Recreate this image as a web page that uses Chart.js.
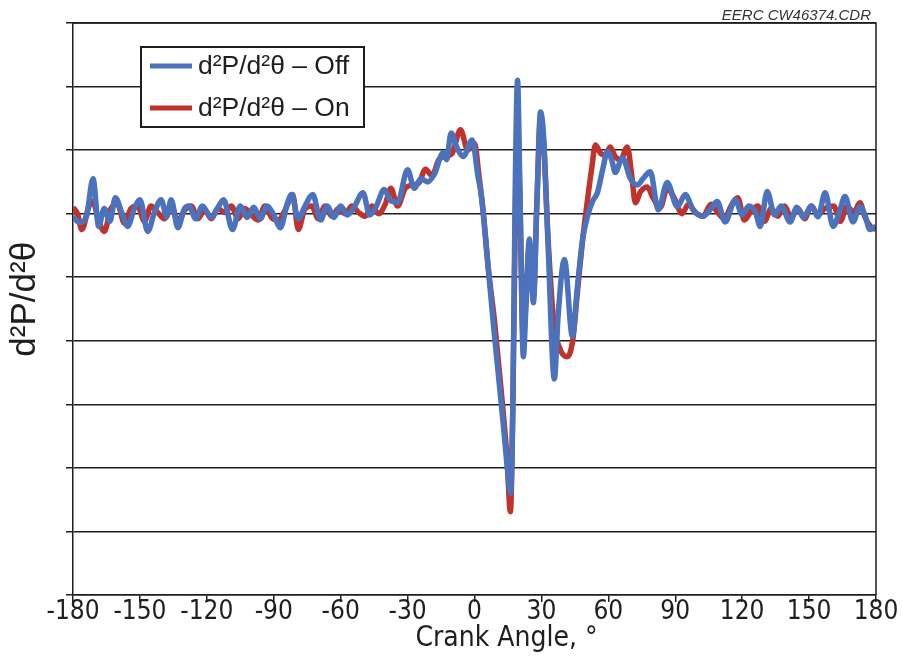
<!DOCTYPE html>
<html>
<head>
<meta charset="utf-8">
<title>d²P/d²θ vs Crank Angle</title>
<script src="https://cdn.jsdelivr.net/npm/chart.js@4/dist/chart.umd.min.js"></script>
<style>
  html, body { margin: 0; padding: 0; background: #fff; }
  canvas { display: block; }
</style>
</head>
<body>
<canvas id="chart" width="902" height="668"></canvas>
<script>
// crank angle (deg) and second derivative of pressure, injection off
const angleOff = [
  -180, -177, -174, -171, -168.5, -166, -163.5, -161, -158, -155.5,
  -152.5, -150, -146.5, -143.5, -140.5, -138, -136, -133, -130, -128,
  -125, -122, -118, -115, -112.5, -108.5, -105, -102, -99, -96,
  -93, -90, -87, -84, -82, -79, -76, -72.5, -69, -66,
  -63, -60, -57, -54, -50, -47, -44, -40.5, -37.5, -34.5,
  -30, -27, -24, -21, -18, -14, -12.5, -10.5, -8, -5,
  -1, 1.5, 3, 5, 8.5, 13, 15, 16.2, 17.2, 18.3,
  19.3, 20.3, 21.9, 23, 24.6, 26.4, 28, 29.6, 31, 33,
  35.8, 37.5, 40.3, 43.9, 46, 48.5, 50.6, 53, 55.1, 57.5,
  59.6, 61.5, 63.1, 66.3, 69.9, 73, 75.5, 78.8, 82.4, 86.4,
  90.9, 94.5, 98, 102.5, 106, 108.8, 112.4, 116.9, 120, 123,
  126, 128.1, 131.2, 134.5, 137.5, 141.5, 144.5, 147.5, 151, 154,
  157.2, 160.8, 163.5, 166.1, 169.7, 172.8, 175, 177.3, 180
];
const dpOff = [
  -0.05, -0.14, -0.05, 0.55, -0.2, 0.08, -0.12, 0.25, 0, -0.2,
  0.08, 0.22, -0.28, 0.02, 0.22, -0.05, 0.22, -0.22, 0.08, 0.12,
  -0.08, 0.12, -0.06, 0.1, 0.22, -0.25, 0.12, -0.06, 0.1, -0.08,
  0.12, -0.02, -0.22, 0.15, 0.3, -0.08, 0.12, 0.3, -0.1, 0.12,
  -0.06, 0.12, -0.02, 0.1, 0.33, -0.02, 0.12, 0.38, 0.2, 0.18,
  0.69, 0.4, 0.55, 0.5, 0.62, 0.96, 0.85, 1.27, 1.05, 0.9,
  1.16, 0.6, 0.3, -0.4, -1.75, -3.35, -4.1, -4.4, -3.0, 0.5,
  2.1, 0.5, -2.25, -1.5, -0.4, -1.4, 0.2, 1.6, 1.2, -0.5,
  -2.6, -1.6, -0.72, -1.93, -1.2, -0.4, -0.05, 0.2, 0.33, 0.7,
  0.98, 0.85, 0.65, 0.88, 0.55, 0.45, 0.55, 0.66, 0.06, 0.49,
  0.11, 0.3, 0.06, -0.04, 0.08, 0.19, -0.13, 0.22, -0.02, 0.12,
  0.02, -0.2, 0.35, -0.02, 0.12, -0.13, 0.1, -0.06, 0.12, -0.05,
  0.33, -0.2, 0.02, 0.27, -0.13, 0.11, -0.02, -0.25, -0.2
];

// same quantity with injection on
const angleOn = [
  -180, -178, -176, -173, -171, -169, -166, -163, -160, -157,
  -154, -151, -148, -145, -142, -139, -136, -133, -130, -127,
  -124, -121, -118, -115, -112, -109, -106, -103, -100, -97,
  -94, -91, -88, -85, -81.5, -79, -76, -73, -70, -67,
  -64, -61, -58, -55, -52, -49, -46, -43, -40, -37.5,
  -34.5, -31, -28, -25, -22, -19, -16, -13, -10, -6.3,
  -3, 0, 2, 4, 6, 9, 12, 14.5, 16.1, 17.2,
  18.3, 19.3, 20.3, 21.9, 23, 24.6, 26.4, 28, 29.6, 31,
  33, 35.5, 38.5, 41.6, 44, 46.1, 48.5, 50.6, 52.5, 54.2,
  56.5, 58.5, 60.9, 63, 65.5, 68.5, 70.5, 72.1, 74.5, 77.5,
  80, 83.3, 86.4, 89.5, 93, 96, 99, 102.5, 106, 109,
  112, 115, 118, 121, 124, 127, 130, 133, 136, 139,
  142, 145, 148, 151, 154, 157, 161, 164, 167, 170,
  172.8, 175, 177.5, 180
];
const dpOn = [
  0.1, 0, -0.25, 0.1, 0.2, -0.05, -0.28, 0.08, 0.15, -0.15,
  0.08, 0.12, -0.12, 0.12, 0.02, -0.08, 0.15, -0.12, 0.05, 0.12,
  -0.08, 0.06, -0.08, 0.08, 0.02, 0.12, -0.08, 0.08, -0.02, -0.1,
  0.12, -0.06, -0.1, 0.05, 0.3, -0.25, 0.08, 0.12, -0.08, 0.12,
  -0.04, 0.08, 0.0, 0.12, 0.02, -0.04, 0.12, 0.0, 0.15, 0.4,
  0.12, 0.4, 0.45, 0.48, 0.7, 0.6, 0.85, 0.9, 0.95, 1.32,
  1.0, 1.1, 0.6, 0, -0.8, -1.7, -2.8, -3.8, -4.69, -3.0,
  0, 1.5, 0.3, -2.0, -1.4, -0.5, -1.3, 0.2, 1.5, 1.1,
  -0.4, -1.7, -2.14, -2.25, -2.0, -1.25, -0.4, 0.2, 0.7, 1.08,
  0.95, 0.92, 1.05, 0.9, 0.85, 1.05, 0.6, 0.17, 0.35, 0.42,
  0.25, 0.1, 0.4, 0.25, 0, 0.15, 0.02, -0.04, 0.15, 0.02,
  -0.08, 0.12, 0.25, -0.1, 0.04, 0.12, -0.12, 0.08, -0.04, 0.12,
  -0.06, 0.08, -0.08, 0.12, -0.02, 0.08, 0.12, -0.12, 0.12, 0.02,
  0.17, -0.05, -0.2, -0.25
];

const xTicks = [-180, -150, -120, -90, -60, -30, 0, 30, 60, 90, 120, 150, 180];
const seriesNames = ['d²P/d²θ – Off', 'd²P/d²θ – On'];

const BLUE = '#4a72bd';
const RED = '#c0322c';
const INK = '#1e1e1e';
const NARROW = '"Liberation Sans Narrow", "DejaVu Sans Condensed", "Liberation Sans", sans-serif';
const SANS = '"Liberation Sans", Arial, sans-serif';

const toPoints = (xs, ys) => xs.map((x, i) => ({ x: x, y: ys[i] }));

// frame on the top/right, boxed legend and file tag
const decorations = {
  id: 'decorations',
  afterDraw(chart) {
    const { ctx, chartArea: a } = chart;
    ctx.save();
    ctx.strokeStyle = INK;
    ctx.lineWidth = 1.5;
    ctx.beginPath();
    ctx.moveTo(a.left, a.top);
    ctx.lineTo(a.right, a.top);
    ctx.lineTo(a.right, a.bottom);
    ctx.stroke();

    // legend
    const lx = 141, ly = 47, lw = 223, lh = 80;
    ctx.fillStyle = '#fff';
    ctx.fillRect(lx, ly, lw, lh);
    ctx.lineWidth = 2;
    ctx.strokeRect(lx, ly, lw, lh);
    chart.data.datasets.forEach((ds, i) => {
      const y = 66 + i * 42;
      ctx.strokeStyle = ds.borderColor;
      ctx.lineWidth = 5;
      ctx.beginPath();
      ctx.moveTo(150, y);
      ctx.lineTo(192, y);
      ctx.stroke();
      ctx.fillStyle = INK;
      ctx.font = '26.5px ' + SANS;
      ctx.textBaseline = 'middle';
      ctx.fillText(ds.label, 198, y + 1);
    });

    ctx.fillStyle = '#333';
    ctx.font = 'italic 15px ' + SANS;
    ctx.textAlign = 'right';
    ctx.textBaseline = 'alphabetic';
    ctx.fillText('EERC CW46374.CDR', 871, 20);
    ctx.restore();
  }
};

new Chart(document.getElementById('chart'), {
  type: 'line',
  data: {
    datasets: [
      {
        label: seriesNames[0],
        data: toPoints(angleOff, dpOff),
        borderColor: BLUE,
        borderWidth: 5.5,
        pointRadius: 0,
        cubicInterpolationMode: 'monotone'
      },
      {
        label: seriesNames[1],
        data: toPoints(angleOn, dpOn),
        borderColor: RED,
        borderWidth: 5.5,
        pointRadius: 0,
        cubicInterpolationMode: 'monotone'
      }
    ]
  },
  options: {
    responsive: false,
    animation: false,
    devicePixelRatio: 1,
    layout: { padding: { top: 23, right: 26, left: 0, bottom: 0 } },
    plugins: {
      legend: { display: false },
      tooltip: { enabled: false }
    },
    scales: {
      x: {
        type: 'linear',
        min: -180,
        max: 180,
        afterBuildTicks: (s) => { s.ticks = xTicks.map(v => ({ value: v })); },
        afterFit: (s) => { s.height = 73; s.paddingLeft = 0; s.paddingRight = 0; },
        grid: { drawOnChartArea: false, drawTicks: true, tickLength: 7, color: INK, lineWidth: 1.5 },
        border: { display: true, color: INK, width: 1.5 },
        ticks: {
          color: INK,
          padding: -5,
          maxRotation: 0,
          autoSkip: false,
          font: { family: NARROW, size: 26 }
        },
        title: {
          display: true,
          // leading blanks push the caption right of the axis centre
          text: '        Crank Angle, °',
          color: INK,
          padding: { top: 0, bottom: 12 },
          font: { family: NARROW, size: 28 }
        }
      },
      y: {
        min: -6,
        max: 3,
        afterFit: (s) => { s.width = 73; },
        ticks: { stepSize: 1, display: false },
        grid: { color: INK, lineWidth: 1.5, drawTicks: true, tickLength: 7 },
        border: { display: true, color: INK, width: 1.5 },
        title: {
          display: true,
          text: '  d²P/d²θ',
          color: INK,
          padding: { top: 4, bottom: 0 },
          font: { family: SANS, size: 35 }
        }
      }
    }
  },
  plugins: [decorations]
});
</script>
</body>
</html>
